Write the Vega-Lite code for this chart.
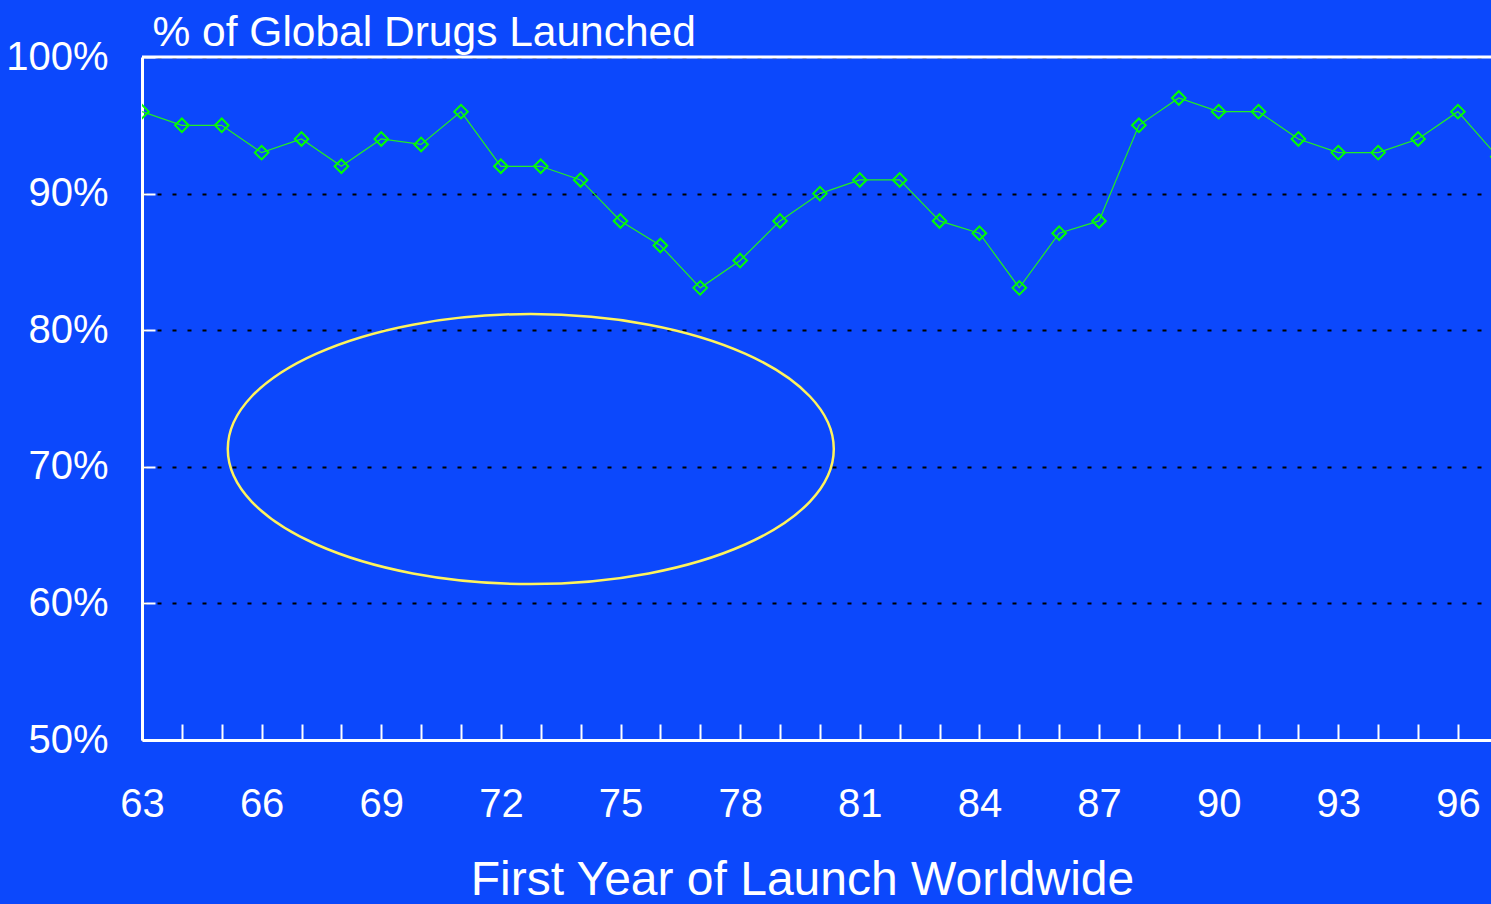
{
  "$schema": "https://vega.github.io/schema/vega-lite/v6.json",
  "autosize": "none",
  "width": 1349,
  "height": 683,
  "padding": {"left": 142, "top": 57, "right": 0, "bottom": 164},
  "background": "#0c48fc",
  "config": {
    "view": {"stroke": null},
    "font": "Liberation Sans"
  },
  "datasets": {
    "series": [
      {"year": 63, "pct": 96},
      {"year": 64, "pct": 95},
      {"year": 65, "pct": 95},
      {"year": 66, "pct": 93},
      {"year": 67, "pct": 94},
      {"year": 68, "pct": 92},
      {"year": 69, "pct": 94},
      {"year": 70, "pct": 93.6},
      {"year": 71, "pct": 96},
      {"year": 72, "pct": 92},
      {"year": 73, "pct": 92},
      {"year": 74, "pct": 91},
      {"year": 75, "pct": 88},
      {"year": 76, "pct": 86.2},
      {"year": 77, "pct": 83.1},
      {"year": 78, "pct": 85.1},
      {"year": 79, "pct": 88},
      {"year": 80, "pct": 90},
      {"year": 81, "pct": 91},
      {"year": 82, "pct": 91},
      {"year": 83, "pct": 88},
      {"year": 84, "pct": 87.1},
      {"year": 85, "pct": 83.1},
      {"year": 86, "pct": 87.1},
      {"year": 87, "pct": 88},
      {"year": 88, "pct": 95},
      {"year": 89, "pct": 97},
      {"year": 90, "pct": 96},
      {"year": 91, "pct": 96},
      {"year": 92, "pct": 94},
      {"year": 93, "pct": 93},
      {"year": 94, "pct": 93},
      {"year": 95, "pct": 94},
      {"year": 96, "pct": 96},
      {"year": 97, "pct": 92.7}
    ],
    "highlight": [
      {"year": 72.75, "pct": 71.3}
    ],
    "border": [
      {"pct": 100}
    ]
  },
  "layer": [
    {
      "data": {"name": "series"},
      "mark": {"type": "line", "color": "#22ee22", "strokeWidth": 1.2, "clip": true},
      "encoding": {
        "x": {
          "field": "year",
          "type": "quantitative",
          "scale": {"domain": [63, 96.83], "nice": false, "zero": false},
          "axis": {
            "values": [63,64,65,66,67,68,69,70,71,72,73,74,75,76,77,78,79,80,81,82,83,84,85,86,87,88,89,90,91,92,93,94,95,96],
            "labelExpr": "(datum.value - 63) % 3 === 0 ? datum.label : ''",
            "format": "d",
            "grid": false,
            "domainColor": "#ffffff",
            "domainWidth": 3,
            "tickColor": "#ffffff",
            "tickWidth": 2,
            "tickSize": -16,
            "labelColor": "#ffffff",
            "labelFont": "Liberation Sans",
            "labelFontSize": 40,
            "labelPadding": 60,
            "labelBaseline": "top",
            "labelFlush": false,
            "labelOverlap": false,
            "title": "First Year of Launch Worldwide",
            "titleColor": "#ffffff",
            "titleFont": "Liberation Sans",
            "titleFontSize": 48,
            "titleFontWeight": "normal",
            "titleAlign": "center",
            "titleBaseline": "alphabetic",
            "titleX": 660,
            "titleY": 154
          }
        },
        "y": {
          "field": "pct",
          "type": "quantitative",
          "scale": {"domain": [50, 100], "nice": false, "zero": false},
          "axis": {
            "values": [50, 60, 70, 80, 90, 100],
            "labelExpr": "datum.value + '%'",
            "grid": true,
            "gridColor": "#000000",
            "gridWidth": 2,
            "gridDash": [4, 11],
            "domainColor": "#ffffff",
            "domainWidth": 3,
            "tickColor": "#ffffff",
            "tickWidth": 2,
            "tickSize": -13,
            "labelColor": "#ffffff",
            "labelFont": "Liberation Sans",
            "labelFontSize": 40,
            "labelPadding": 47,
            "labelFlush": false,
            "labelOverlap": false,
            "title": "% of Global Drugs Launched",
            "titleColor": "#ffffff",
            "titleFont": "Liberation Sans",
            "titleFontSize": 42.5,
            "titleFontWeight": "normal",
            "titleAngle": 0,
            "titleAlign": "left",
            "titleBaseline": "alphabetic",
            "titleX": 10,
            "titleY": -12
          }
        }
      }
    },
    {
      "data": {"name": "series"},
      "mark": {"type": "point", "shape": "diamond", "filled": false, "color": "#00ff00", "strokeWidth": 2, "size": 185, "opacity": 1, "clip": true},
      "encoding": {
        "x": {"field": "year", "type": "quantitative"},
        "y": {"field": "pct", "type": "quantitative"}
      }
    },
    {
      "data": {"name": "border"},
      "mark": {"type": "rule", "color": "#ffffff", "strokeWidth": 3},
      "encoding": {
        "y": {"field": "pct", "type": "quantitative"}
      }
    },
    {
      "data": {"name": "highlight"},
      "mark": {
        "type": "point",
        "filled": false,
        "color": "#fff35c",
        "strokeWidth": 2.5,
        "opacity": 1,
        "size": 367236,
        "shape": "M -1 0 C -1 -0.2461 -0.5523 -0.4455 0 -0.4455 C 0.5523 -0.4455 1 -0.2461 1 0 C 1 0.2461 0.5523 0.4455 0 0.4455 C -0.5523 0.4455 -1 0.2461 -1 0 Z"
      },
      "encoding": {
        "x": {"field": "year", "type": "quantitative"},
        "y": {"field": "pct", "type": "quantitative"}
      }
    }
  ]
}
